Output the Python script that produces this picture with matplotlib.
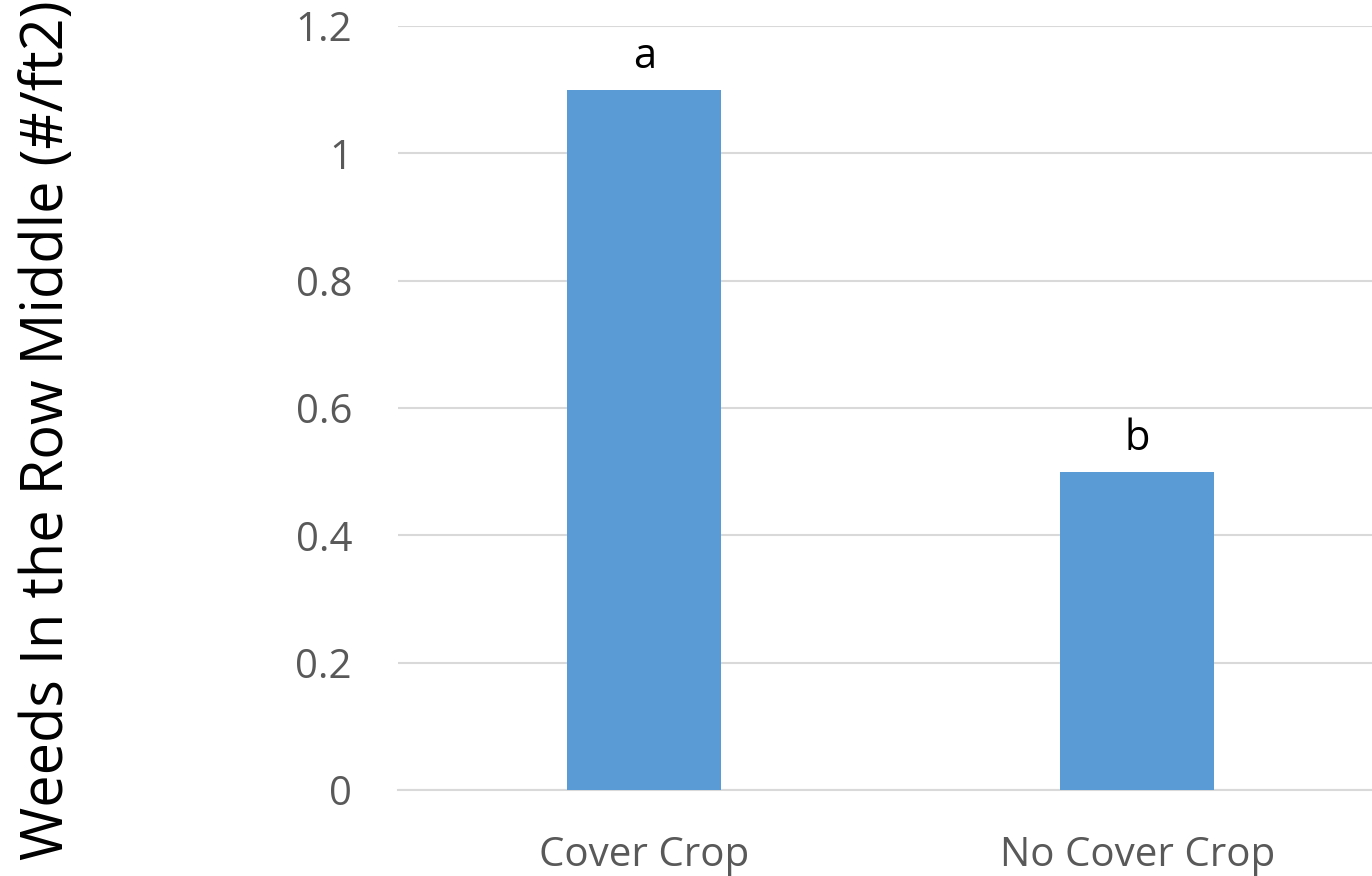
import matplotlib.pyplot as plt

categories = ['Cover Crop', 'No Cover Crop']
weeds = [1.1, 0.5]
letters = ['a', 'b']
y_ticks = [0, 0.2, 0.4, 0.6, 0.8, 1, 1.2]
y_tick_labels = ['0', '0.2', '0.4', '0.6', '0.8', '1', '1.2']

plt.rcParams['font.family'] = ['Open Sans', 'DejaVu Sans']

fig = plt.figure(figsize=(13.72, 8.76), dpi=100)
ax = fig.add_axes([0.290, 0.0982, 0.710, 0.8721])

x = range(len(categories))
ax.bar(x, weeds, width=0.312, color='#5B9BD5', zorder=3)
for i, (v, t) in enumerate(zip(weeds, letters)):
    ax.text(i, v + 0.018, t, ha='center', va='bottom', fontsize=30, color='black')

ax.set_xlim(-0.5, 1.476)
ax.set_ylim(0, 1.2)
ax.set_yticks(y_ticks)
ax.set_yticklabels(y_tick_labels)
ax.set_xticks(list(x))
ax.set_xticklabels(categories)
ax.tick_params(axis='both', length=0, labelsize=29, labelcolor='#595959')
ax.tick_params(axis='y', pad=33)
ax.tick_params(axis='x', pad=33)

ax.grid(axis='y', color='#D9D9D9', linewidth=1.5, zorder=0)
for s in ['top', 'right', 'left']:
    ax.spines[s].set_visible(False)
ax.spines['bottom'].set_color('#D9D9D9')
ax.spines['bottom'].set_linewidth(1.5)

fig.text(0.035, 0.509, 'Weeds In the Row Middle (#/ft2)', rotation=90,
         ha='center', va='center', fontsize=41.5, color='black')

fig.savefig('out.png', dpi=100)
